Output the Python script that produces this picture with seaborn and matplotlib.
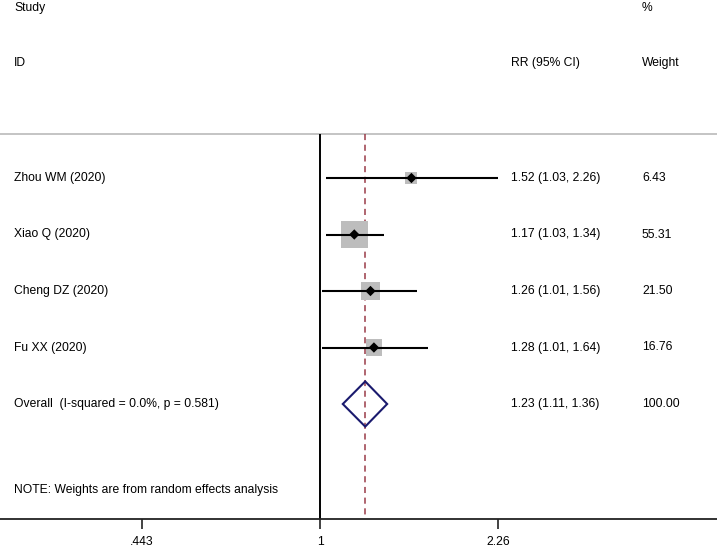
import numpy as np
import matplotlib
matplotlib.use("Agg")
import matplotlib.pyplot as plt
import matplotlib.transforms as mtransforms
from matplotlib import font_manager
import seaborn as sns
import pandas as pd

# study data
studies = ["Zhou WM (2020)", "Xiao Q (2020)", "Cheng DZ (2020)", "Fu XX (2020)"]
rr = [1.52, 1.17, 1.26, 1.28]
ci_low = [1.03, 1.03, 1.01, 1.01]
ci_high = [2.26, 1.34, 1.56, 1.64]
weights = [6.43, 55.31, 21.50, 16.76]

overall_label = "Overall  (I-squared = 0.0%, p = 0.581)"
overall_rr = 1.23
overall_low = 1.11
overall_high = 1.36
overall_weight = 100.00

tick_values = [0.443, 1, 2.26]
tick_labels = [".443", "1", "2.26"]

df = pd.DataFrame({"study": studies, "rr": rr, "lo": ci_low, "hi": ci_high,
                   "weight": weights})
df["row"] = np.arange(len(df))
overall_row = len(df)

sns.set_theme(style="white")
installed = {f.name for f in font_manager.fontManager.ttflist}
if "Liberation Sans Narrow" in installed:
    plt.rcParams['font.family'] = ['Liberation Sans Narrow', 'DejaVu Sans']
    fs = 10.7
else:
    plt.rcParams['font.family'] = ['Liberation Sans', 'DejaVu Sans']
    fs = 8.7
txt_color = "#000000"

fig = plt.figure(figsize=(7.17, 5.48), dpi=100)
ax = fig.add_axes([0, 29 / 548, 1, 1 - 29 / 548])

# x: log scale, 1 at px 320, ~218 px per ln unit
ax.set_xscale("log")
ax.set_xlim(np.exp(-320 / 218.4), np.exp(397 / 218.4))
# y: rows, 56.5 px apart, first row at px 178
ax.set_ylim((519 - 178) / 56.5, (0 - 178) / 56.5)
top_line = (134 - 178) / 56.5
ybot = ax.get_ylim()[0]

# separator line under the header
ax.axhline(top_line, color="#c4c4c4", lw=1.4)

# null line and overall dashed line
ax.vlines(1, top_line, ybot, color="black", lw=1.4)
ax.vlines(overall_rr, top_line, ybot, color="#9a3a48", lw=1.1,
          linestyles=(0, (4, 3)))

# weight boxes
sns.scatterplot(data=df, x="rr", y="row", marker="s", s=df["weight"] * 6.3 + 35,
                color="#bdbdbd", edgecolor="none", ax=ax, legend=False, zorder=2)
# confidence intervals
ax.hlines(df["row"], df["lo"], df["hi"], color="black", lw=1.5, zorder=3)
# point estimates
sns.scatterplot(data=df, x="rr", y="row", marker="D", s=28, color="black",
                edgecolor="none", ax=ax, legend=False, zorder=4)

# overall diamond
h = 0.4
ax.fill([overall_low, overall_rr, overall_high, overall_rr],
        [overall_row, overall_row - h, overall_row, overall_row + h],
        facecolor="none", edgecolor="#1a1a6e", lw=1.5, zorder=4)

# text columns
trans = mtransforms.blended_transform_factory(ax.transAxes, ax.transData)
x_lab, x_rr, x_w = 14 / 717, 511 / 717, 642 / 717


def put(x, y, s):
    ax.text(x, y, s, transform=trans, va="center", fontsize=fs, color=txt_color)


put(x_lab, -3.01, "Study")
put(x_w, -3.01, "%")
put(x_lab, -2.04, "ID")
put(x_rr, -2.04, "RR (95% CI)")
put(x_w, -2.04, "Weight")

for _, r in df.iterrows():
    put(x_lab, r["row"], r["study"])
    put(x_rr, r["row"], f"{r['rr']:.2f} ({r['lo']:.2f}, {r['hi']:.2f})")
    put(x_w, r["row"], f"{r['weight']:.2f}")

put(x_lab, overall_row, overall_label)
put(x_rr, overall_row, f"{overall_rr:.2f} ({overall_low:.2f}, {overall_high:.2f})")
put(x_w, overall_row, f"{overall_weight:.2f}")

put(x_lab, (490 - 178) / 56.5, "NOTE: Weights are from random effects analysis")

# axis styling
for side in ["top", "left", "right"]:
    ax.spines[side].set_visible(False)
ax.spines["bottom"].set_color("#222222")
ax.spines["bottom"].set_linewidth(1.3)
ax.set_yticks([])
ax.set_xticks(tick_values)
ax.set_xticklabels(tick_labels)
ax.xaxis.set_minor_locator(matplotlib.ticker.NullLocator())
ax.tick_params(axis="x", direction="out", length=7, width=1.2, color="#222222",
               labelsize=fs, labelcolor=txt_color, pad=5.5, bottom=True)
ax.set_xlabel("")
ax.set_ylabel("")

fig.savefig("out.png", dpi=100)
